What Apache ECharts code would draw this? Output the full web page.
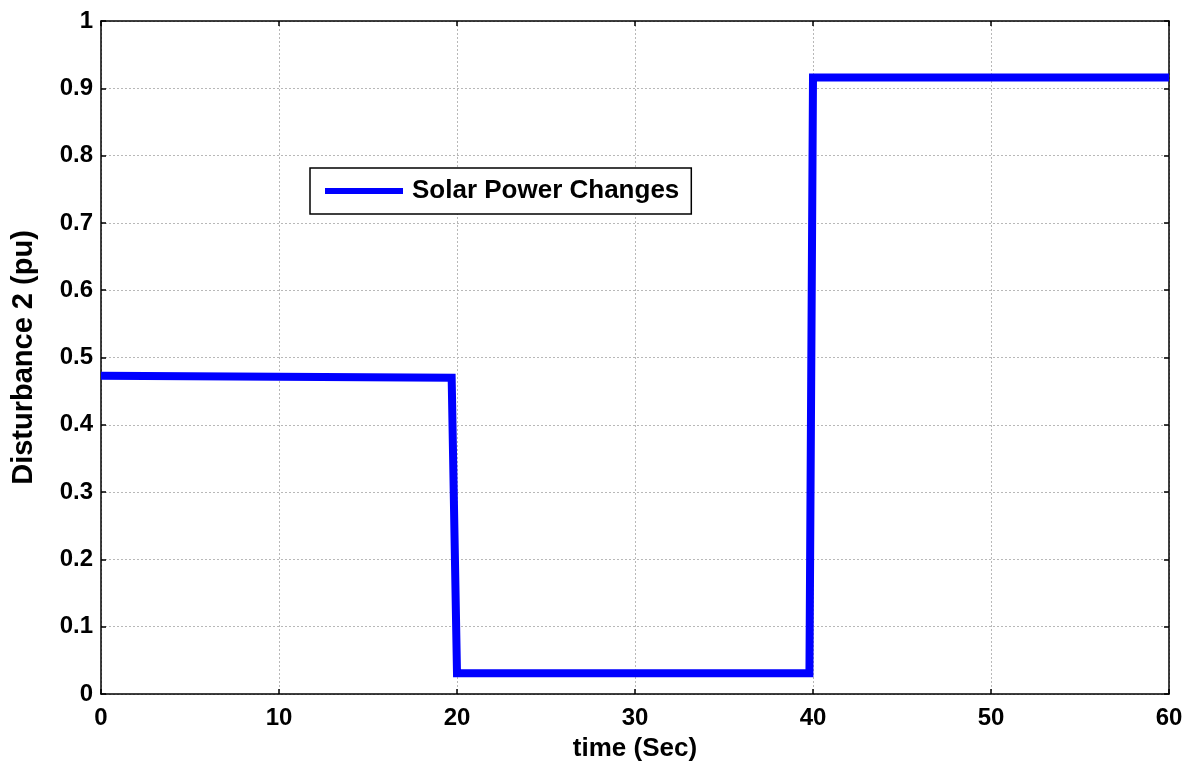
<!DOCTYPE html>
<html>
<head>
<meta charset="utf-8">
<script src="https://cdn.jsdelivr.net/npm/echarts@6/dist/echarts.min.js"></script>
<style>
  html, body { margin: 0; padding: 0; background: #fff; }
  #chart { width: 1184px; height: 762px; }
</style>
</head>
<body>
<div id="chart"></div>
<script>
// Solar power disturbance profile (time in seconds, value in pu)
const timeSec = [0, 19.7, 20.0, 39.8, 40.0, 60];
const disturbance = [0.473, 0.470, 0.031, 0.031, 0.916, 0.916];
const xTicks = [0, 10, 20, 30, 40, 50, 60];
const yTicks = [0, 0.1, 0.2, 0.3, 0.4, 0.5, 0.6, 0.7, 0.8, 0.9, 1];
const seriesName = 'Solar Power Changes';

const points = timeSec.map((t, i) => [t, disturbance[i]]);

const font = 'Liberation Sans, Arial, sans-serif';
const gridLine = { show: true, lineStyle: { color: '#b8b8b8', type: [2, 2], width: 1 } };
const tick = { show: true, inside: true, length: 5, lineStyle: { color: '#000', width: 1.5 } };
const axisLine = { show: true, onZero: false, lineStyle: { color: '#000', width: 1.5 } };

const chart = echarts.init(document.getElementById('chart'));
chart.setOption({
  animation: false,
  backgroundColor: '#fff',
  grid: { left: 101, right: 15, top: 21, bottom: 68, containLabel: false, outerBoundsMode: 'none' },
  legend: {
    data: [seriesName],
    left: 310,
    top: 168,
    icon: 'rect',
    itemWidth: 78,
    itemHeight: 6,
    padding: [10, 12, 10, 15],
    borderColor: '#000',
    borderWidth: 1.5,
    backgroundColor: '#fff',
    textStyle: { fontFamily: font, fontSize: 26, fontWeight: 'bold', color: '#000', padding: [0, 0, 0, 4] }
  },
  xAxis: [
    {
      type: 'value', min: 0, max: 60, interval: 10,
      name: 'time (Sec)', nameLocation: 'middle', nameGap: 42,
      nameTextStyle: { fontFamily: font, fontSize: 26, fontWeight: 'bold', color: '#000' },
      axisLine: axisLine, axisTick: tick, splitLine: gridLine,
      axisLabel: {
        fontFamily: font, fontSize: 24, fontWeight: 'bold', color: '#000', margin: 12,
        formatter: v => xTicks.includes(v) ? String(v) : ''
      }
    },
    {
      type: 'value', position: 'top', min: 0, max: 60, interval: 10,
      axisLine: axisLine, axisTick: tick, splitLine: { show: false }, axisLabel: { show: false }
    }
  ],
  yAxis: [
    {
      type: 'value', min: 0, max: 1, interval: 0.1,
      name: 'Disturbance 2 (pu)', nameLocation: 'middle', nameGap: 63,
      nameTextStyle: { fontFamily: font, fontSize: 29, fontWeight: 'bold', color: '#000' },
      axisLine: axisLine, axisTick: tick, splitLine: gridLine,
      axisLabel: {
        fontFamily: font, fontSize: 24, fontWeight: 'bold', color: '#000', margin: 8,
        formatter: v => {
          const r = Math.round(v * 10) / 10;
          return yTicks.includes(r) ? String(r) : '';
        }
      }
    },
    {
      type: 'value', position: 'right', min: 0, max: 1, interval: 0.1,
      axisLine: axisLine, axisTick: tick, splitLine: { show: false }, axisLabel: { show: false }
    }
  ],
  series: [
    {
      name: seriesName,
      type: 'line',
      data: points,
      showSymbol: false,
      symbol: 'none',
      itemStyle: { color: '#0000ff' },
      lineStyle: { color: '#0000ff', width: 8, join: 'miter' },
      z: 5
    }
  ]
});
</script>
</body>
</html>
